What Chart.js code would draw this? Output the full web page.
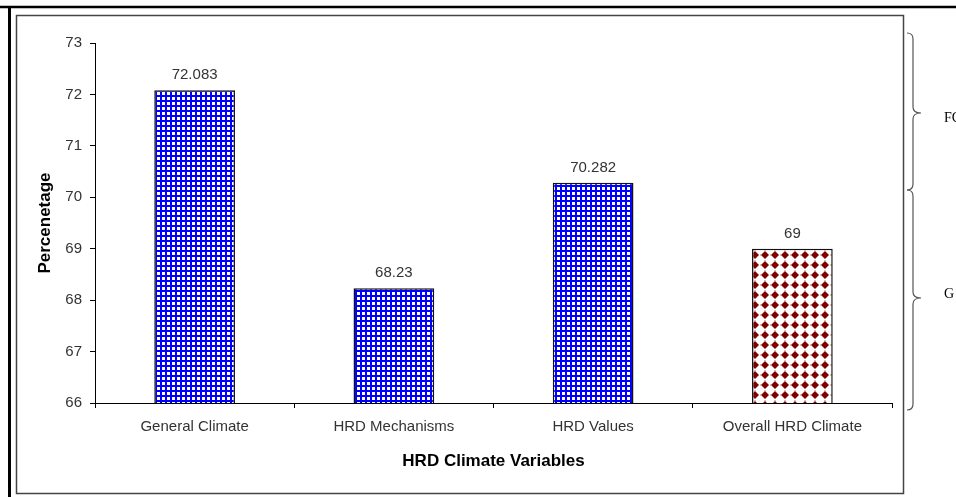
<!DOCTYPE html>
<html><head><meta charset="utf-8">
<script src="https://cdn.jsdelivr.net/npm/chart.js@4.4.1/dist/chart.umd.min.js"></script>
<style>
html,body{margin:0;padding:0;background:#fff;width:956px;height:497px;overflow:hidden;}
#wrap{position:relative;width:956px;height:497px;}
#c{position:absolute;left:0;top:0;}
svg{position:absolute;left:0;top:0;pointer-events:none;}
</style></head><body>
<div id="wrap">
<canvas id="c" width="956" height="497"></canvas>
<svg width="956" height="497">
 <line x1="0" y1="7" x2="956" y2="7" stroke="#000" stroke-width="2.5"/>
 <line x1="9.5" y1="6" x2="9.5" y2="497" stroke="#000" stroke-width="3"/>
 <rect x="16.5" y="15.5" width="887" height="478" fill="none" stroke="#444" stroke-width="1.5"/>
 <path d="M907 33 Q913 33 913 39 L913 107 Q913 113 921 113 Q913 113 913 119 L913 184 Q913 190 907 190" fill="none" stroke="#555" stroke-width="1.2"/>
 <path d="M907 190 Q913 190 913 196 L913 292 Q913 298 921 298 Q913 298 913 304 L913 404 Q913 410 907 410" fill="none" stroke="#555" stroke-width="1.2"/>
 <text x="944" y="122" font-family="Liberation Serif" font-size="14" fill="#000">FC</text>
 <text x="944" y="298" font-family="Liberation Serif" font-size="14" fill="#000">G</text>
</svg>
</div>
<script>
const categories = ['General Climate', 'HRD Mechanisms', 'HRD Values', 'Overall HRD Climate'];
const values = [72.083, 68.23, 70.282, 69];
const valueLabels = ['72.083', '68.23', '70.282', '69'];
const yMin = 66;
const yMax = 73;
const yStep = 1;
const fillKinds = ['grid', 'grid', 'grid', 'diamond'];

function makePattern(kind) {
  const t = document.createElement('canvas');
  const g = t.getContext('2d');
  if (kind === 'grid') {
    t.width = 5; t.height = 5;
    g.fillStyle = '#0000ff'; g.fillRect(0, 0, 5, 5);
    g.fillStyle = '#ffffff'; g.fillRect(2, 2, 3, 3);
  } else {
    t.width = 10; t.height = 10;
    g.fillStyle = '#ffffff'; g.fillRect(0, 0, 10, 10);
    g.fillStyle = '#800000';
    g.beginPath(); g.moveTo(5, 1); g.lineTo(9, 5); g.lineTo(5, 9); g.lineTo(1, 5); g.closePath(); g.fill();
    g.fillRect(3.5, 3.5, 3, 3);
    g.fillStyle = 'rgba(128,0,0,0.5)';
    g.fillRect(0, 4.5, 1, 1); g.fillRect(4.5, 0, 1, 1);
  }
  return g.createPattern(t, 'repeat');
}

const valueLabelPlugin = {
  id: 'valueLabels',
  afterDatasetsDraw(chart) {
    const ctx = chart.ctx;
    const meta = chart.getDatasetMeta(0);
    ctx.save();
    ctx.font = '15px "Liberation Sans", Arial, sans-serif';
    ctx.fillStyle = '#333';
    ctx.textAlign = 'center';
    ctx.textBaseline = 'alphabetic';
    meta.data.forEach((el, i) => {
      ctx.fillText(valueLabels[i], el.x, el.y - 11);
    });
    ctx.restore();
  }
};

const tickFont = { family: '"Liberation Sans", Arial, sans-serif', size: 15 };
const titleFont = { family: '"Liberation Sans", Arial, sans-serif', size: 17, weight: 'bold' };

new Chart(document.getElementById('c'), {
  type: 'bar',
  data: {
    labels: categories,
    datasets: [{
      data: values,
      backgroundColor: fillKinds.map(makePattern),
      borderColor: '#111',
      borderWidth: 1.5,
      categoryPercentage: 1,
      barPercentage: 0.405
    }]
  },
  options: {
    responsive: false,
    animation: false,
    layout: { padding: { left: 31, top: 43, right: 64, bottom: 21 } },
    plugins: { legend: { display: false }, tooltip: { enabled: false } },
    scales: {
      y: {
        min: yMin, max: yMax,
        ticks: { stepSize: yStep, font: tickFont, color: '#333', padding: 8 },
        grid: { drawOnChartArea: false, tickLength: 5, color: '#000' },
        border: { color: '#000', width: 1 },
        title: { display: true, text: 'Percenetage', font: titleFont, color: '#000' },
        afterFit(s) { s.width = 64; }
      },
      x: {
        ticks: { font: tickFont, color: '#333', padding: 10, maxRotation: 0 },
        grid: { offset: true, drawOnChartArea: false, tickLength: 5, color: '#000' },
        border: { color: '#000', width: 1 },
        title: { display: true, text: 'HRD Climate Variables', font: titleFont, color: '#000' },
        afterFit(s) { s.height = 73; }
      }
    }
  },
  plugins: [valueLabelPlugin]
});
</script>
</body></html>
